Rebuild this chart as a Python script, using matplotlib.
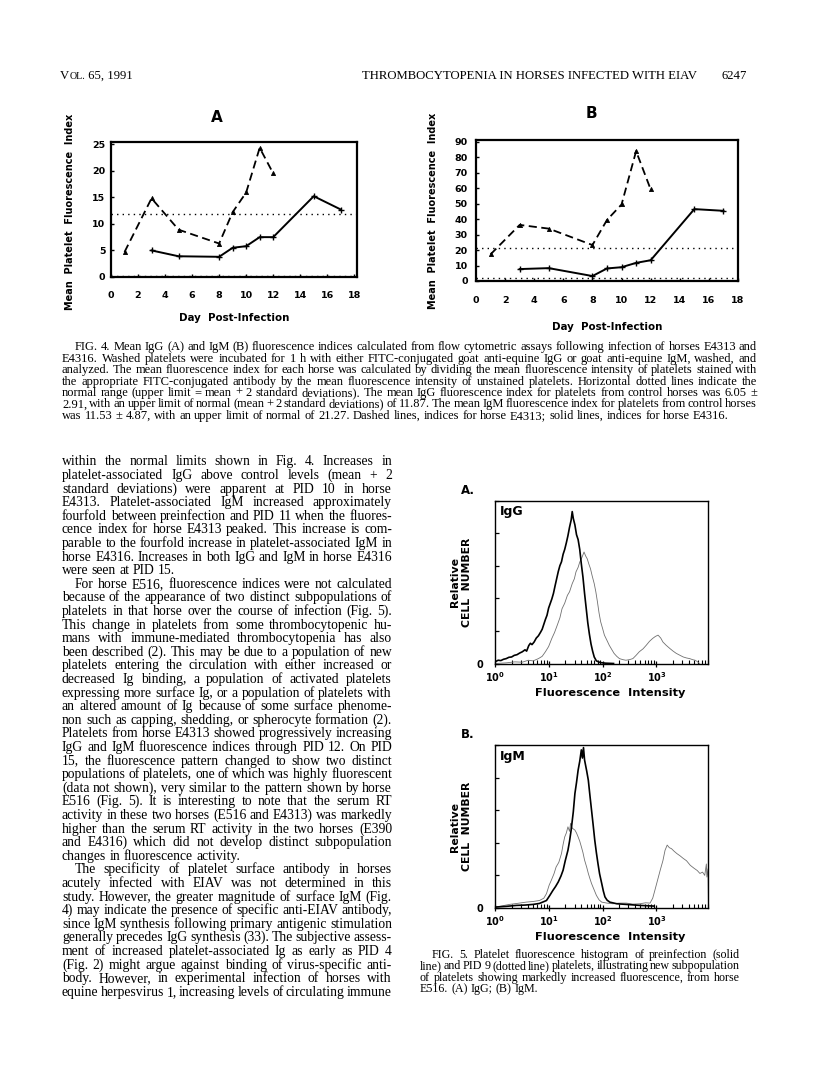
# Page with Fig. 4 (fluorescence indices) and Fig. 5 (platelet histograms)
import numpy as np
import matplotlib
matplotlib.use("Agg")
import matplotlib.pyplot as plt
from matplotlib.ticker import FixedLocator, NullFormatter, LogLocator

# Page size in pixels (dpi 100)
W, H = 816, 1076

# Fig. 4 data: day post-infection and mean platelet fluorescence index
days_e4313 = [1, 3, 5, 8, 9, 10, 11, 12]
days_e4316 = [3, 5, 8, 9, 10, 11, 12, 15, 17]
igg_e4313 = [4.7, 14.8, 8.9, 6.3, 12.2, 15.9, 24.3, 19.5]
igg_e4316 = [5.0, 3.9, 3.8, 5.5, 5.8, 7.5, 7.5, 15.2, 12.7]
igm_e4313 = [17.2, 36.2, 33.8, 23.2, 39.4, 49.4, 83.8, 59.1]
igm_e4316 = [7.7, 8.3, 3.2, 8.1, 8.9, 11.7, 13.4, 46.4, 45.3]
# normal range (mean - 2 SD, mean + 2 SD)
igg_normal = [0.23, 11.87]
igm_normal = [1.79, 21.27]
fig4_xticks = [0, 2, 4, 6, 8, 10, 12, 14, 16, 18]
igg_yticks = [0, 5, 10, 15, 20, 25]
igm_yticks = [0, 10, 20, 30, 40, 50, 60, 70, 80, 90]

# Fig. 5 data: log10 fluorescence intensity and relative cell number
igg_pre_dec = [0.00, 0.05, 0.10, 0.15, 0.20, 0.25, 0.30, 0.35, 0.40, 0.45, 0.50, 0.55,
               0.58, 0.62, 0.65, 0.68, 0.72, 0.76, 0.80, 0.84, 0.87, 0.90, 0.93, 0.96,
               0.99, 1.02, 1.05, 1.08, 1.11, 1.14, 1.17, 1.20, 1.23, 1.26, 1.29, 1.32,
               1.35, 1.38, 1.41, 1.43, 1.45, 1.48, 1.51, 1.54, 1.57, 1.60, 1.63, 1.66,
               1.69, 1.72, 1.75, 1.78, 1.81, 1.84, 1.88, 1.95, 2.05, 2.20]
igg_pre_val = [0.06, 0.10, 0.09, 0.13, 0.15, 0.19, 0.20, 0.25, 0.27, 0.32, 0.36, 0.42,
               0.38, 0.55, 0.62, 0.58, 0.66, 0.78, 0.85, 0.96, 1.05, 1.20, 1.35, 1.48,
               1.70, 1.84, 1.98, 2.15, 2.38, 2.60, 2.82, 3.00, 3.12, 3.35, 3.50, 3.70,
               3.92, 4.18, 4.40, 4.66, 4.45, 4.25, 3.95, 3.80, 3.50, 3.05, 2.65, 2.15,
               1.70, 1.25, 0.90, 0.60, 0.38, 0.20, 0.08, 0.03, 0.01, 0.00]
igg_pid9_dec = [0.00, 0.20, 0.36, 0.50, 0.61, 0.70, 0.80, 0.87, 0.93, 0.99, 1.05, 1.10,
                1.15, 1.20, 1.24, 1.29, 1.34, 1.38, 1.43, 1.47, 1.50, 1.54, 1.57, 1.61,
                1.65, 1.68, 1.71, 1.74, 1.77, 1.80, 1.84, 1.87, 1.90, 1.93, 1.96, 2.00,
                2.03, 2.08, 2.12, 2.17, 2.21, 2.26, 2.31, 2.37, 2.43, 2.50, 2.56, 2.62,
                2.68, 2.75, 2.81, 2.87, 2.93, 2.98, 3.03, 3.08, 3.12, 3.18, 3.25, 3.31,
                3.37, 3.44, 3.50, 3.56, 3.62, 3.67, 3.72, 3.76, 3.80]
igg_pid9_val = [0.00, 0.02, 0.05, 0.04, 0.10, 0.08, 0.15, 0.22, 0.36, 0.52, 0.77, 0.95,
                1.17, 1.40, 1.68, 1.85, 2.09, 2.20, 2.45, 2.60, 2.81, 2.95, 3.11, 3.25,
                3.42, 3.30, 3.21, 3.05, 2.91, 2.70, 2.45, 2.20, 1.89, 1.55, 1.28, 1.05,
                0.87, 0.70, 0.56, 0.42, 0.31, 0.22, 0.15, 0.12, 0.10, 0.12, 0.15, 0.25,
                0.36, 0.45, 0.56, 0.68, 0.77, 0.83, 0.87, 0.78, 0.66, 0.56, 0.46, 0.38,
                0.31, 0.25, 0.20, 0.17, 0.15, 0.12, 0.10, 0.06, 0.00]
igm_pre_dec = [0.01, 0.20, 0.39, 0.55, 0.70, 0.82, 0.95, 1.01, 1.07, 1.12, 1.17, 1.22,
               1.26, 1.30, 1.35, 1.38, 1.41, 1.45, 1.48, 1.51, 1.54, 1.57, 1.60, 1.62,
               1.64, 1.66, 1.70, 1.73, 1.76, 1.79, 1.82, 1.85, 1.88, 1.91, 1.94, 1.98,
               2.01, 2.04, 2.08, 2.13, 2.26, 2.44, 2.69, 2.94]
igm_pre_val = [0.03, 0.05, 0.08, 0.09, 0.11, 0.14, 0.23, 0.38, 0.54, 0.66, 0.80, 0.98,
               1.16, 1.45, 1.77, 2.05, 2.39, 2.95, 3.51, 3.85, 4.23, 4.50, 4.85, 4.60,
               4.92, 4.54, 4.20, 3.92, 3.45, 3.00, 2.55, 2.08, 1.70, 1.36, 1.05, 0.75,
               0.52, 0.34, 0.24, 0.18, 0.13, 0.11, 0.08, 0.06]
igm_pid9_dec = [0.01, 0.26, 0.40, 0.57, 0.70, 0.82, 0.90, 0.95, 1.00, 1.04, 1.09, 1.13,
                1.18, 1.23, 1.26, 1.29, 1.32, 1.35, 1.38, 1.40, 1.43, 1.48, 1.51, 1.54,
                1.57, 1.60, 1.63, 1.66, 1.70, 1.73, 1.76, 1.79, 1.84, 1.88, 1.93, 1.98,
                2.08, 2.19, 2.30, 2.44, 2.56, 2.69, 2.80, 2.88, 2.93, 2.97, 3.02, 3.07,
                3.12, 3.16, 3.20, 3.24, 3.28, 3.33, 3.38, 3.44, 3.50, 3.56, 3.63, 3.70,
                3.76, 3.81, 3.86, 3.90, 3.93, 3.94, 3.96, 3.97]
igm_pid9_val = [0.03, 0.11, 0.14, 0.18, 0.20, 0.23, 0.30, 0.44, 0.70, 0.85, 1.05, 1.26,
                1.40, 1.67, 1.95, 2.18, 2.30, 2.49, 2.35, 2.60, 2.45, 2.39, 2.30, 2.18,
                2.05, 1.88, 1.70, 1.47, 1.25, 1.06, 0.90, 0.75, 0.55, 0.39, 0.25, 0.18,
                0.15, 0.13, 0.15, 0.15, 0.12, 0.13, 0.16, 0.15, 0.30, 0.54, 0.85, 1.16,
                1.45, 1.77, 1.93, 1.85, 1.82, 1.74, 1.67, 1.60, 1.52, 1.45, 1.31, 1.22,
                1.15, 1.06, 1.10, 1.00, 1.35, 0.95, 1.20, 0.00]
hist_major = [1, 10, 100, 1000]
hist_major_labels = [r"$\mathbf{10^{0}}$", r"$\mathbf{10^{1}}$",
                     r"$\mathbf{10^{2}}$", r"$\mathbf{10^{3}}$"]

# Page text
header_vol = ["V", "OL.", " 65, 1991"]
header_title = "THROMBOCYTOPENIA IN HORSES INFECTED WITH EIAV"
header_page = "6247"

fig4_caption = [
    "FIG. 4. Mean IgG (A) and IgM (B) fluorescence indices calculated from flow cytometric assays following infection of horses E4313 and",
    "E4316. Washed platelets were incubated for 1 h with either FITC-conjugated goat anti-equine IgG or goat anti-equine IgM, washed, and",
    "analyzed. The mean fluorescence index for each horse was calculated by dividing the mean fluorescence intensity of platelets stained with",
    "the appropriate FITC-conjugated antibody by the mean fluorescence intensity of unstained platelets. Horizontal dotted lines indicate the",
    "normal range (upper limit = mean + 2 standard deviations). The mean IgG fluorescence index for platelets from control horses was 6.05 \u00b1",
    "2.91, with an upper limit of normal (mean + 2 standard deviations) of 11.87. The mean IgM fluorescence index for platelets from control horses",
    "was 11.53 \u00b1 4.87, with an upper limit of normal of 21.27. Dashed lines, indices for horse E4313; solid lines, indices for horse E4316.",
]

body_para1 = [
    "within the normal limits shown in Fig. 4. Increases in",
    "platelet-associated IgG above control levels (mean + 2",
    "standard deviations) were apparent at PID 10 in horse",
    "E4313. Platelet-associated IgM increased approximately",
    "fourfold between preinfection and PID 11 when the fluores-",
    "cence index for horse E4313 peaked. This increase is com-",
    "parable to the fourfold increase in platelet-associated IgM in",
    "horse E4316. Increases in both IgG and IgM in horse E4316",
    "were seen at PID 15.",
]
body_para2 = [
    "For horse E516, fluorescence indices were not calculated",
    "because of the appearance of two distinct subpopulations of",
    "platelets in that horse over the course of infection (Fig. 5).",
    "This change in platelets from some thrombocytopenic hu-",
    "mans with immune-mediated thrombocytopenia has also",
    "been described (2). This may be due to a population of new",
    "platelets entering the circulation with either increased or",
    "decreased Ig binding, a population of activated platelets",
    "expressing more surface Ig, or a population of platelets with",
    "an altered amount of Ig because of some surface phenome-",
    "non such as capping, shedding, or spherocyte formation (2).",
    "Platelets from horse E4313 showed progressively increasing",
    "IgG and IgM fluorescence indices through PID 12. On PID",
    "15, the fluorescence pattern changed to show two distinct",
    "populations of platelets, one of which was highly fluorescent",
    "(data not shown), very similar to the pattern shown by horse",
    "E516 (Fig. 5). It is interesting to note that the serum RT",
    "activity in these two horses (E516 and E4313) was markedly",
    "higher than the serum RT activity in the two horses (E390",
    "and E4316) which did not develop distinct subpopulation",
    "changes in fluorescence activity.",
]
body_para3 = [
    "The specificity of platelet surface antibody in horses",
    "acutely infected with EIAV was not determined in this",
    "study. However, the greater magnitude of surface IgM (Fig.",
    "4) may indicate the presence of specific anti-EIAV antibody,",
    "since IgM synthesis following primary antigenic stimulation",
    "generally precedes IgG synthesis (33). The subjective assess-",
    "ment of increased platelet-associated Ig as early as PID 4",
    "(Fig. 2) might argue against binding of virus-specific anti-",
    "body. However, in experimental infection of horses with",
    "equine herpesvirus 1, increasing levels of circulating immune",
]

fig5_caption = [
    "FIG. 5. Platelet fluorescence histogram of preinfection (solid",
    "line) and PID 9 (dotted line) platelets, illustrating new subpopulation",
    "of platelets showing markedly increased fluorescence, from horse",
    "E516. (A) IgG; (B) IgM.",
]

SERIF = "Liberation Serif"
SANS = "DejaVu Sans"


def fx(x):
    return x / W


def fy(y):
    return 1 - y / H


def box(left, top, right, bottom):
    # axes rectangle from pixel edges
    return [fx(left), fy(bottom), (right - left) / W, (bottom - top) / H]


def text_width(fig, r, s, size, family, weight="normal"):
    t = fig.text(0, 0, s, fontsize=size, family=family, weight=weight)
    w = t.get_window_extent(renderer=r).width
    t.remove()
    return w


def fit_size(fig, r, lines, avail, family, weight="normal", base=10.0, q=0):
    # size so that the lines fit their width (q: percentile of the ratios)
    ratios = [a / text_width(fig, r, s, base, family, weight) for s, a in zip(lines, avail)]
    return base * np.percentile(ratios, q)


def draw_block(fig, r, paras, x0, x1, y0, lh, size, indent, family=SERIF):
    # paras: list of (indented first line, lines, paragraph ends)
    space = text_width(fig, r, "a a", size, family) - text_width(fig, r, "aa", size, family)
    y = y0
    for first_indent, lines, ends in paras:
        for i, line in enumerate(lines):
            xs = x0 + (indent if (i == 0 and first_indent) else 0)
            last = ends and i == len(lines) - 1
            words = line.split(" ")
            texts = [fig.text(0, 0, w, fontsize=size, family=family, va="baseline") for w in words]
            widths = [t.get_window_extent(renderer=r).width for t in texts]
            if last or len(words) == 1:
                gap = space
            else:
                gap = (x1 - xs - sum(widths)) / (len(words) - 1)
                gap = max(gap, 0.5 * space)
            yb = y + 0.28 * size * 100 / 72
            x = xs
            for t, w in zip(texts, widths):
                t.set_position((fx(x), fy(yb)))
                x += w + gap
            y += lh


def fig4_panel(ax, d_vals, s_vals, normal, yticks, ylim, xlim):
    ax.plot(days_e4313, d_vals, color="k", lw=1.3, ls=(0, (4.5, 2.5)),
            marker="^", ms=3, mew=0.6)
    ax.plot(days_e4316, s_vals, color="k", lw=1.4, marker="+", ms=4, mew=1.0)
    for v in normal:
        ax.axhline(v, color="k", lw=1.0, ls=(0, (1, 3)))
    ax.set_xlim(*xlim)
    ax.set_ylim(*ylim)
    ax.set_xticks(fig4_xticks)
    ax.set_yticks(yticks)
    for sp in ax.spines.values():
        sp.set_linewidth(1.6)
    ax.tick_params(direction="in", length=2.5, width=1, labelsize=6.8)
    for lab in ax.get_xticklabels() + ax.get_yticklabels():
        lab.set_fontweight("bold")
        lab.set_family(SANS)


def fig5_panel(ax, pre_dec, pre_val, pid_dec, pid_val, name):
    ax.plot(10 ** np.array(pid_dec), pid_val, color="#707070", lw=0.6)
    ax.plot(10 ** np.array(pre_dec), pre_val, color="k", lw=1.2)
    ax.set_xscale("log")
    ax.set_xlim(1, 10 ** 3.97)
    ax.set_ylim(0, 5)
    ax.xaxis.set_major_locator(FixedLocator(hist_major))
    ax.set_xticklabels(hist_major_labels)
    ax.xaxis.set_minor_locator(LogLocator(base=10, subs=np.arange(2, 10)))
    ax.xaxis.set_minor_formatter(NullFormatter())
    ax.set_yticks([0, 1, 2, 3, 4, 5])
    ax.set_yticklabels(["0", "", "", "", "", ""])
    for sp in ax.spines.values():
        sp.set_linewidth(1.0)
    ax.tick_params(axis="x", which="major", direction="inout", length=5, width=0.9,
                   labelsize=7, pad=2)
    ax.tick_params(axis="x", which="minor", direction="in", length=3, width=0.8)
    ax.tick_params(axis="y", direction="in", length=3, width=0.9, labelsize=7, pad=9)
    for lab in ax.get_yticklabels():
        lab.set_fontweight("bold")
    ax.text(0.02, 0.97, name, transform=ax.transAxes, fontsize=9, weight="bold",
            family=SANS, va="top", ha="left")


def main():
    plt.rcParams["mathtext.fontset"] = "dejavusans"
    fig = plt.figure(figsize=(W / 100, H / 100), dpi=100)
    r = fig.canvas.get_renderer()

    # Running header
    hs = fit_size(fig, r, [header_title], [338], SERIF)
    x = 60
    for part, scale in zip(header_vol, [1.0, 0.78, 1.0]):
        fig.text(fx(x), fy(79), part, fontsize=hs * scale, family=SERIF, va="baseline")
        x += text_width(fig, r, part, hs * scale, SERIF)
    fig.text(fx(362), fy(79), header_title, fontsize=hs, family=SERIF, va="baseline")
    fig.text(fx(747), fy(79), header_page, fontsize=hs, family=SERIF, va="baseline", ha="right")

    # Fig. 4 panels
    ax_a = fig.add_axes(box(111, 142, 357, 277))
    fig4_panel(ax_a, igg_e4313, igg_e4316, igg_normal, igg_yticks, (0, 25.4), (0, 18.2))
    ax_a.tick_params(axis="x", pad=10)
    ax_a.tick_params(axis="y", pad=4)
    ax_b = fig.add_axes(box(476, 140, 738, 281))
    fig4_panel(ax_b, igm_e4313, igm_e4316, igm_normal, igm_yticks, (0, 91), (0, 18))
    ax_b.tick_params(axis="x", pad=11)
    ax_b.tick_params(axis="y", pad=6)

    ylab = "Mean  Platelet  Fluorescence  Index"
    ys = fit_size(fig, r, [ylab], [196], SANS, "bold")
    xlab = "Day  Post-Infection"
    xs = fit_size(fig, r, [xlab], [110], SANS, "bold")
    for (lx, ly), (tx, ty), (px, py), title in [((70, 212), (234, 318), (217, 117), "A"),
                                                ((433, 211), (607, 327), (591, 113), "B")]:
        fig.text(fx(lx), fy(ly), ylab, rotation=90, fontsize=ys, weight="bold",
                 family=SANS, ha="center", va="center")
        fig.text(fx(tx), fy(ty), xlab, fontsize=xs, weight="bold", family=SANS,
                 ha="center", va="center")
        fig.text(fx(px), fy(py), title, fontsize=11, weight="bold", family=SANS,
                 ha="center", va="center")

    # Fig. 4 caption
    cap_lines = fig4_caption[:-1]
    cs = fit_size(fig, r, cap_lines, [695 - 13] + [695] * (len(cap_lines) - 1), SERIF, q=25)
    draw_block(fig, r, [(True, fig4_caption, True)], 62, 757, 347, 11.4, cs, 13)

    # Left column body text
    paras = [(False, body_para1, True), (True, body_para2, True), (True, body_para3, False)]
    full = [l for _, ls, e in paras for l in (ls[:-1] if e else ls)]
    bs = fit_size(fig, r, full, [330] * len(full), SERIF, q=15)
    draw_block(fig, r, paras, 62, 392, 461.5, 13.6, bs, 13)

    # Fig. 5 histograms
    ax_g = fig.add_axes(box(495.5, 500.5, 708.5, 663.5))
    fig5_panel(ax_g, igg_pre_dec, igg_pre_val, igg_pid9_dec, igg_pid9_val, "IgG")
    ax_m = fig.add_axes(box(495.5, 745, 708.5, 908))
    fig5_panel(ax_m, igm_pre_dec, igm_pre_val, igm_pid9_dec, igm_pid9_val, "IgM")

    for top, panel in [(500.5, "A."), (745, "B.")]:
        mid = top + 81.5
        fig.text(fx(461), fy(top - 10), panel, fontsize=8.5, weight="bold", family=SANS,
                 ha="left", va="center")
        fig.text(fx(455), fy(mid), "Relative", rotation=90, fontsize=7.8, weight="bold",
                 family=SANS, ha="center", va="center")
        fig.text(fx(467), fy(mid), "CELL  NUMBER", rotation=90, fontsize=7.8, weight="bold",
                 family=SANS, ha="center", va="center")
        fig.text(fx(610), fy(top + 192.5), "Fluorescence  Intensity", fontsize=8.2,
                 weight="bold", family=SANS, ha="center", va="center")

    # Fig. 5 caption
    c5 = fit_size(fig, r, fig5_caption[:-1], [320 - 12, 320, 320], SERIF, q=30)
    draw_block(fig, r, [(True, fig5_caption, True)], 420, 740, 954.3, 11.6, c5, 12)

    fig.savefig("out.png", dpi=100)


if __name__ == "__main__":
    main()
